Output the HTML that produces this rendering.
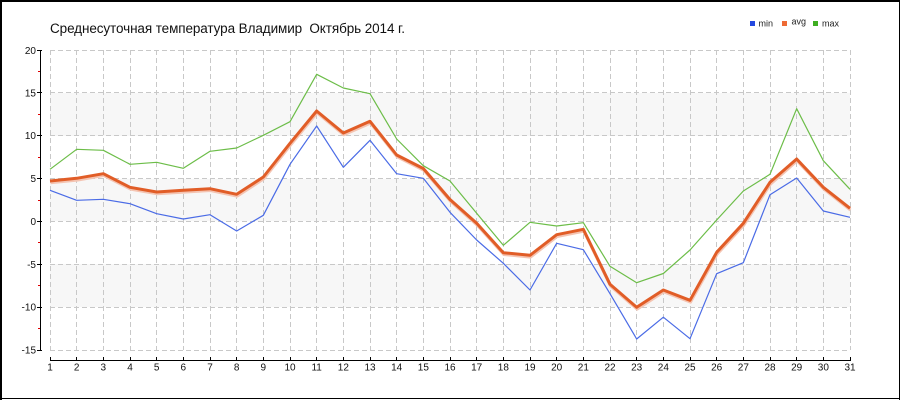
<!DOCTYPE html>
<html>
<head>
<meta charset="utf-8">
<style>
html,body{margin:0;padding:0;background:#fff;}
svg{display:block;}
text{font-family:"Liberation Sans","DejaVu Sans",sans-serif;}
</style>
</head>
<body>
<svg width="900" height="400" viewBox="0 0 900 400" xmlns="http://www.w3.org/2000/svg">
<rect x="0" y="0" width="900" height="400" fill="#fff"/>
<!-- frame -->
<rect x="0" y="0" width="900" height="2" fill="#000"/>
<rect x="0" y="0" width="2" height="400" fill="#000"/>
<rect x="899" y="0" width="1" height="400" fill="#000"/>
<rect x="0" y="398" width="900" height="1" fill="#000"/>

<!-- title -->
<text x="50" y="33" font-size="13.5" fill="#111" xml:space="preserve" style="white-space:pre" textLength="355" lengthAdjust="spacing">Среднесуточная температура Владимир  Октябрь 2014 г.</text>

<!-- legend -->
<rect x="750" y="21" width="5" height="5" fill="#2348e0"/>
<text x="758.5" y="26.5" font-size="9" fill="#222">min</text>
<rect x="782" y="21" width="5" height="5" fill="#ee6a35"/>
<text x="791.5" y="24.5" font-size="9" fill="#222">avg</text>
<rect x="813" y="21" width="5" height="5" fill="#3fae22"/>
<text x="822" y="26.5" font-size="9" fill="#222">max</text>

<!-- bands -->
<rect x="50" y="93" width="800" height="43" fill="#f7f7f7"/>
<rect x="50" y="179" width="800" height="42" fill="#f7f7f7"/>
<rect x="50" y="264" width="800" height="43" fill="#f7f7f7"/>

<!-- horizontal grid -->
<g stroke="#c8c8c8" stroke-width="1" stroke-dasharray="5,3" fill="none">
<line x1="50" y1="50.5" x2="850" y2="50.5"/>
<line x1="50" y1="92.5" x2="850" y2="92.5"/>
<line x1="50" y1="135.5" x2="850" y2="135.5"/>
<line x1="50" y1="178.5" x2="850" y2="178.5"/>
<line x1="50" y1="221.5" x2="850" y2="221.5"/>
<line x1="50" y1="264.5" x2="850" y2="264.5"/>
<line x1="50" y1="307.5" x2="850" y2="307.5"/>
<line x1="50" y1="350.5" x2="850" y2="350.5"/>
</g>
<!-- vertical grid -->
<g stroke="#c8c8c8" stroke-width="1" stroke-dasharray="5,3" fill="none">
<line x1="50.5" y1="50" x2="50.5" y2="350"/>
<line x1="76.5" y1="50" x2="76.5" y2="350"/>
<line x1="103.5" y1="50" x2="103.5" y2="350"/>
<line x1="130.5" y1="50" x2="130.5" y2="350"/>
<line x1="156.5" y1="50" x2="156.5" y2="350"/>
<line x1="183.5" y1="50" x2="183.5" y2="350"/>
<line x1="210.5" y1="50" x2="210.5" y2="350"/>
<line x1="236.5" y1="50" x2="236.5" y2="350"/>
<line x1="263.5" y1="50" x2="263.5" y2="350"/>
<line x1="290.5" y1="50" x2="290.5" y2="350"/>
<line x1="316.5" y1="50" x2="316.5" y2="350"/>
<line x1="343.5" y1="50" x2="343.5" y2="350"/>
<line x1="370.5" y1="50" x2="370.5" y2="350"/>
<line x1="396.5" y1="50" x2="396.5" y2="350"/>
<line x1="423.5" y1="50" x2="423.5" y2="350"/>
<line x1="450.5" y1="50" x2="450.5" y2="350"/>
<line x1="476.5" y1="50" x2="476.5" y2="350"/>
<line x1="503.5" y1="50" x2="503.5" y2="350"/>
<line x1="530.5" y1="50" x2="530.5" y2="350"/>
<line x1="556.5" y1="50" x2="556.5" y2="350"/>
<line x1="583.5" y1="50" x2="583.5" y2="350"/>
<line x1="610.5" y1="50" x2="610.5" y2="350"/>
<line x1="636.5" y1="50" x2="636.5" y2="350"/>
<line x1="663.5" y1="50" x2="663.5" y2="350"/>
<line x1="690.5" y1="50" x2="690.5" y2="350"/>
<line x1="716.5" y1="50" x2="716.5" y2="350"/>
<line x1="743.5" y1="50" x2="743.5" y2="350"/>
<line x1="770.5" y1="50" x2="770.5" y2="350"/>
<line x1="796.5" y1="50" x2="796.5" y2="350"/>
<line x1="823.5" y1="50" x2="823.5" y2="350"/>
<line x1="850.5" y1="50" x2="850.5" y2="350"/>
</g>

<!-- y axis -->
<line x1="40.5" y1="50" x2="40.5" y2="351" stroke="#000" stroke-width="1"/>
<g stroke="#000" stroke-width="1">
<line x1="37" y1="50.5" x2="42" y2="50.5"/>
<line x1="37" y1="92.5" x2="42" y2="92.5"/>
<line x1="37" y1="135.5" x2="42" y2="135.5"/>
<line x1="37" y1="178.5" x2="42" y2="178.5"/>
<line x1="37" y1="221.5" x2="42" y2="221.5"/>
<line x1="37" y1="264.5" x2="42" y2="264.5"/>
<line x1="37" y1="307.5" x2="42" y2="307.5"/>
<line x1="37" y1="350.5" x2="42" y2="350.5"/>
</g>
<g stroke="#e00000" stroke-width="1">
<line x1="38" y1="71.5" x2="40" y2="71.5"/>
<line x1="38" y1="114.5" x2="40" y2="114.5"/>
<line x1="38" y1="157.5" x2="40" y2="157.5"/>
<line x1="38" y1="200.5" x2="40" y2="200.5"/>
<line x1="38" y1="242.5" x2="40" y2="242.5"/>
<line x1="38" y1="285.5" x2="40" y2="285.5"/>
<line x1="38" y1="328.5" x2="40" y2="328.5"/>
</g>
<g font-size="10" fill="#111" text-anchor="end">
<text x="36" y="54">20</text>
<text x="36" y="96.4">15</text>
<text x="36" y="139.2">10</text>
<text x="36" y="182.1">5</text>
<text x="36" y="225">0</text>
<text x="36" y="267.8">-5</text>
<text x="36" y="310.7">-10</text>
<text x="36" y="353.5">-15</text>
</g>

<!-- x axis -->
<line x1="50" y1="360.5" x2="851" y2="360.5" stroke="#000" stroke-width="1"/>
<g stroke="#000" stroke-width="1">
<line x1="50.5" y1="357" x2="50.5" y2="361"/>
<line x1="76.5" y1="357" x2="76.5" y2="361"/>
<line x1="103.5" y1="357" x2="103.5" y2="361"/>
<line x1="130.5" y1="357" x2="130.5" y2="361"/>
<line x1="156.5" y1="357" x2="156.5" y2="361"/>
<line x1="183.5" y1="357" x2="183.5" y2="361"/>
<line x1="210.5" y1="357" x2="210.5" y2="361"/>
<line x1="236.5" y1="357" x2="236.5" y2="361"/>
<line x1="263.5" y1="357" x2="263.5" y2="361"/>
<line x1="290.5" y1="357" x2="290.5" y2="361"/>
<line x1="316.5" y1="357" x2="316.5" y2="361"/>
<line x1="343.5" y1="357" x2="343.5" y2="361"/>
<line x1="370.5" y1="357" x2="370.5" y2="361"/>
<line x1="396.5" y1="357" x2="396.5" y2="361"/>
<line x1="423.5" y1="357" x2="423.5" y2="361"/>
<line x1="450.5" y1="357" x2="450.5" y2="361"/>
<line x1="476.5" y1="357" x2="476.5" y2="361"/>
<line x1="503.5" y1="357" x2="503.5" y2="361"/>
<line x1="530.5" y1="357" x2="530.5" y2="361"/>
<line x1="556.5" y1="357" x2="556.5" y2="361"/>
<line x1="583.5" y1="357" x2="583.5" y2="361"/>
<line x1="610.5" y1="357" x2="610.5" y2="361"/>
<line x1="636.5" y1="357" x2="636.5" y2="361"/>
<line x1="663.5" y1="357" x2="663.5" y2="361"/>
<line x1="690.5" y1="357" x2="690.5" y2="361"/>
<line x1="716.5" y1="357" x2="716.5" y2="361"/>
<line x1="743.5" y1="357" x2="743.5" y2="361"/>
<line x1="770.5" y1="357" x2="770.5" y2="361"/>
<line x1="796.5" y1="357" x2="796.5" y2="361"/>
<line x1="823.5" y1="357" x2="823.5" y2="361"/>
<line x1="850.5" y1="357" x2="850.5" y2="361"/>
</g>
<g font-size="10" fill="#111" text-anchor="middle">
<text x="50" y="370.5">1</text>
<text x="76.67" y="370.5">2</text>
<text x="103.33" y="370.5">3</text>
<text x="130" y="370.5">4</text>
<text x="156.67" y="370.5">5</text>
<text x="183.33" y="370.5">6</text>
<text x="210" y="370.5">7</text>
<text x="236.67" y="370.5">8</text>
<text x="263.33" y="370.5">9</text>
<text x="290" y="370.5">10</text>
<text x="316.67" y="370.5">11</text>
<text x="343.33" y="370.5">12</text>
<text x="370" y="370.5">13</text>
<text x="396.67" y="370.5">14</text>
<text x="423.33" y="370.5">15</text>
<text x="450" y="370.5">16</text>
<text x="476.67" y="370.5">17</text>
<text x="503.33" y="370.5">18</text>
<text x="530" y="370.5">19</text>
<text x="556.67" y="370.5">20</text>
<text x="583.33" y="370.5">21</text>
<text x="610" y="370.5">22</text>
<text x="636.67" y="370.5">23</text>
<text x="663.33" y="370.5">24</text>
<text x="690" y="370.5">25</text>
<text x="716.67" y="370.5">26</text>
<text x="743.33" y="370.5">27</text>
<text x="770" y="370.5">28</text>
<text x="796.67" y="370.5">29</text>
<text x="823.33" y="370.5">30</text>
<text x="850" y="370.5">31</text>
</g>

<!-- max (green) -->
<polyline fill="none" stroke="#6cbd48" stroke-width="1.2" stroke-linejoin="round"
points="50,169.3 76.67,149.3 103.33,150.3 130,164.3 156.67,162.3 183.33,168.3 210,151.3 236.67,148 263.33,135.3 290,121.7 316.67,74.3 343.33,88 370,93.7 396.67,139 423.33,165.7 450,181 476.67,213.2 503.33,245.3 530,222.3 556.67,226 583.33,222.7 610,266.3 636.67,282.7 663.33,273.5 690,250 716.67,220 743.33,191 770,174.3 796.67,108.7 823.33,160.7 850,189.3"/>

<!-- min (blue) -->
<polyline fill="none" stroke="#4a6be6" stroke-width="1.2" stroke-linejoin="round"
points="50,190.3 76.67,200.3 103.33,199.3 130,203.7 156.67,213.7 183.33,219 210,214.7 236.67,231 263.33,215.3 290,164.3 316.67,126 343.33,167.3 370,140.3 396.67,173.7 423.33,178.3 450,212.3 476.67,240 503.33,263.3 530,290 556.67,243.3 583.33,249.7 610,293.7 636.67,339 663.33,317.2 690,338.7 716.67,273.7 743.33,262.7 770,194.7 796.67,178 823.33,211 850,217.3"/>

<!-- avg (orange) shadow -->
<polyline fill="none" stroke="#f4c4b2" stroke-width="3" stroke-linejoin="round" transform="translate(0.5,1.8)"
points="50,181 76.67,178.3 103.33,173.7 130,187.3 156.67,192 183.33,190.3 210,188.7 236.67,194.3 263.33,177 290,143.3 316.67,111 343.33,133 370,121.3 396.67,155 423.33,168.5 450,199.5 476.67,223.3 503.33,252.7 530,255.3 556.67,234.7 583.33,229.3 610,284.3 636.67,307.3 663.33,290 690,300.3 716.67,252.3 743.33,223.3 770,182.3 796.67,159 823.33,187.3 850,208.3"/>
<!-- avg (orange) -->
<polyline fill="none" stroke="#e15d27" stroke-width="3" stroke-linejoin="round"
points="50,181 76.67,178.3 103.33,173.7 130,187.3 156.67,192 183.33,190.3 210,188.7 236.67,194.3 263.33,177 290,143.3 316.67,111 343.33,133 370,121.3 396.67,155 423.33,168.5 450,199.5 476.67,223.3 503.33,252.7 530,255.3 556.67,234.7 583.33,229.3 610,284.3 636.67,307.3 663.33,290 690,300.3 716.67,252.3 743.33,223.3 770,182.3 796.67,159 823.33,187.3 850,208.3"/>
</svg>
</body>
</html>
